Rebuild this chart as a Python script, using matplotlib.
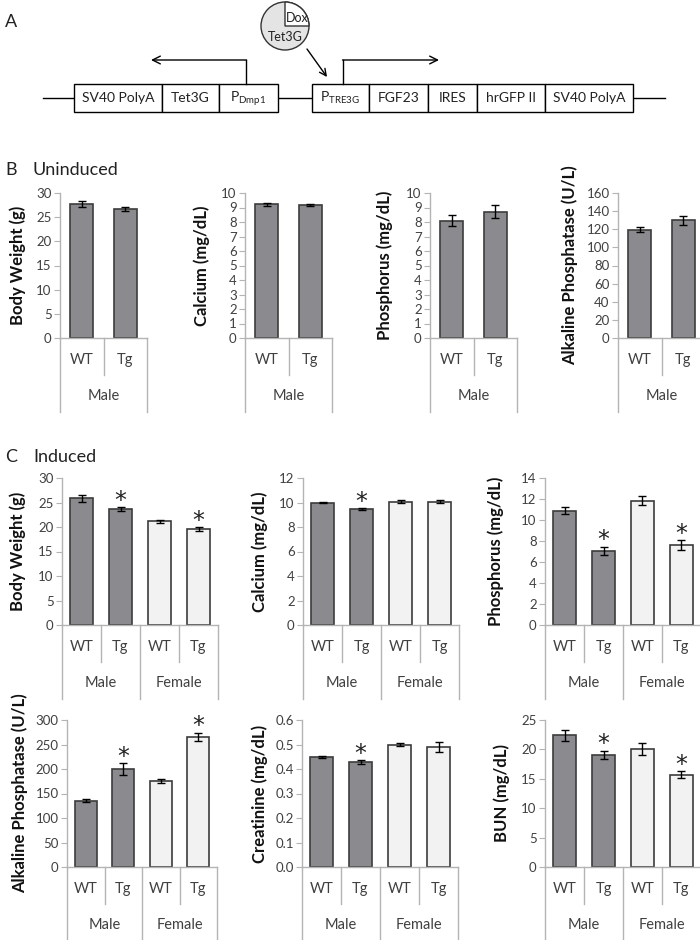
import numpy as np
import matplotlib.pyplot as plt
from matplotlib.patches import Rectangle, Circle, Wedge
from matplotlib.ticker import FormatStrFormatter
from matplotlib.transforms import blended_transform_factory

plt.rcParams['font.family'] = ['Lato', 'DejaVu Sans']

W, H = 700, 940

# categories
genotypes = ["WT", "Tg"]
sexes_b = ["Male"]
sexes_c = ["Male", "Female"]

# panel B - uninduced, male WT / Tg
b_weight = [27.8, 26.7]
b_weight_err = [0.6, 0.45]
b_calcium = [9.22, 9.17]
b_calcium_err = [0.1, 0.05]
b_phos = [8.1, 8.7]
b_phos_err = [0.4, 0.45]
b_alp = [119.5, 130.0]
b_alp_err = [2.5, 5.0]

# panel C - induced, Male WT, Male Tg, Female WT, Female Tg
c_weight = [25.9, 23.7, 21.2, 19.5]
c_weight_err = [0.7, 0.35, 0.3, 0.4]
c_calcium = [10.0, 9.45, 10.08, 10.08]
c_calcium_err = [0.05, 0.08, 0.15, 0.1]
c_phos = [10.9, 7.05, 11.85, 7.6]
c_phos_err = [0.3, 0.4, 0.4, 0.5]
c_alp = [135, 200, 176, 266]
c_alp_err = [3, 12, 4, 8]
c_creat = [0.45, 0.428, 0.50, 0.49]
c_creat_err = [0.005, 0.007, 0.006, 0.02]
c_bun = [22.4, 19.1, 20.1, 15.7]
c_bun_err = [0.9, 0.7, 1.0, 0.6]

# significance marks
c_weight_sig = [False, True, False, True]
c_calcium_sig = [False, True, False, False]
c_phos_sig = [False, True, False, True]
c_alp_sig = [False, True, False, True]
c_creat_sig = [False, True, False, False]
c_bun_sig = [False, True, False, True]

# construct (panel A)
left_parts = ["SV40 PolyA", "Tet3G", r"P$_{\mathregular{Dmp1}}$"]
right_parts = [r"P$_{\mathregular{TRE3G}}$", "FGF23", "IRES", "hrGFP II", "SV40 PolyA"]
left_edges = [74, 162, 219, 278]
right_edges = [312, 369, 428, 477, 545, 633]

dark = '#8b8b8f'
light = '#f2f2f2'
edge = '#3c3c3c'
gray = '#b4b4b4'
txt = '#404040'

fig = plt.figure(figsize=(7, 9.4), dpi=100)


def fy(px):
    return 1 - px / H


# ---------- panel A ----------
a = fig.add_axes([0, fy(140), 1, 140 / H])
a.set_xlim(0, W)
a.set_ylim(140, 0)
a.axis('off')

a.plot([43, 665], [98, 98], color='black', lw=1, zorder=1)
for parts, edges in [(left_parts, left_edges), (right_parts, right_edges)]:
    for name, x0, x1 in zip(parts, edges[:-1], edges[1:]):
        a.add_patch(Rectangle((x0, 84), x1 - x0, 28, fc='white', ec='black', lw=1, zorder=2))
        a.text((x0 + x1) / 2, 98, name, ha='center', va='center', fontsize=10, color='#222222', zorder=3)

# promoters
a.plot([246, 246], [84, 60], color='black', lw=1)
a.annotate('', xy=(151, 60), xytext=(246.5, 60),
           arrowprops=dict(arrowstyle='->', lw=1, color='black', mutation_scale=14, shrinkA=0, shrinkB=0))
a.plot([343, 343], [84, 60], color='black', lw=1)
a.annotate('', xy=(439, 60), xytext=(342.5, 60),
           arrowprops=dict(arrowstyle='->', lw=1, color='black', mutation_scale=14, shrinkA=0, shrinkB=0))

# Tet3G / Dox
a.add_patch(Circle((285, 26), 24, fc='#e4e4e4', ec='#333333', lw=1))
a.add_patch(Wedge((285, 26), 24, 270, 360, fc='white', ec='#333333', lw=1))
a.text(297, 18, 'Dox', ha='center', va='center', fontsize=9, color='#222222')
a.text(285, 37, 'Tet3G', ha='center', va='center', fontsize=9, color='#222222')
a.annotate('', xy=(327, 77), xytext=(307, 49),
           arrowprops=dict(arrowstyle='->', lw=1, color='black', mutation_scale=12, shrinkA=0, shrinkB=0))

fig.text(5 / W, fy(22), 'A', fontsize=13, va='center', color='#222222')
fig.text(5 / W, fy(170), 'B', fontsize=13, va='center', color='#222222')
fig.text(33 / W, fy(170), 'Uninduced', fontsize=13, va='center', color='#222222')
fig.text(5 / W, fy(457), 'C', fontsize=13, va='center', color='#222222')
fig.text(33 / W, fy(457), 'Induced', fontsize=13, va='center', color='#222222')


def bar_chart(L, R, T, B, vals, errs, ymax, step, ylabel, label_x, groups,
              colors, sig=None, fmt=None, width=0.55):
    ax = fig.add_axes([L / W, fy(B), (R - L) / W, (B - T) / H])
    n = len(vals)
    x = np.arange(n) + 0.5
    ax.bar(x, vals, width, color=colors, edgecolor=edge, linewidth=1.2, zorder=2)
    ax.errorbar(x, vals, yerr=errs, fmt='none', ecolor='black', elinewidth=1,
                capsize=3, capthick=1, zorder=3)
    if sig is not None:
        for xi, v, e, s in zip(x, vals, errs, sig):
            if s:
                ax.annotate('*', (xi, v + e), xytext=(0, -4), textcoords='offset points',
                            ha='center', va='bottom', fontsize=17, color='#222222',
                            family='DejaVu Sans')
    ax.set_xlim(0, n)
    ax.set_ylim(0, ymax)
    ax.set_yticks(np.arange(0, ymax + step / 2, step))
    if fmt:
        ax.yaxis.set_major_formatter(FormatStrFormatter(fmt))
    ax.set_xticks([])
    for s in ['top', 'right']:
        ax.spines[s].set_visible(False)
    for s in ['left', 'bottom']:
        ax.spines[s].set_color(gray)
        ax.spines[s].set_linewidth(1)
    ax.tick_params(axis='y', length=4, color=gray, labelsize=9.5, labelcolor=txt, pad=2)
    ax.set_ylabel(ylabel, fontsize=12, fontweight='bold', va='center', color='#111111')
    ax.yaxis.set_label_coords((label_x - L) / (R - L), 0.5)

    # two-level category axis
    tr = blended_transform_factory(ax.transData, fig.transFigure)
    k = len(genotypes)
    for i in range(n + 1):
        depth = 74 if i % k == 0 else 37
        ax.plot([i, i], [fy(B), fy(B + depth)], color=gray, lw=1, transform=tr, clip_on=False)
    for i in range(n):
        ax.text(i + 0.5, fy(B + 22), genotypes[i % k], ha='center', va='center',
                fontsize=10.5, color=txt, transform=tr)
    for g, name in enumerate(groups):
        ax.text(g * k + k / 2, fy(B + 58), name, ha='center', va='center',
                fontsize=10.5, color=txt, transform=tr)
    return ax


# ---------- panel B ----------
bc = [dark, dark]
bar_chart(60, 147, 193, 338, b_weight, b_weight_err, 30, 5, 'Body Weight (g)', 18, sexes_b, bc, width=0.52)
bar_chart(245, 332, 193, 338, b_calcium, b_calcium_err, 10, 1, 'Calcium (mg/dL)', 202, sexes_b, bc, width=0.52)
bar_chart(430, 517, 193, 338, b_phos, b_phos_err, 10, 1, 'Phosphorus (mg/dL)', 385, sexes_b, bc, width=0.52)
bar_chart(618, 705, 193, 338, b_alp, b_alp_err, 160, 20, 'Alkaline Phosphatase (U/L)', 570, sexes_b, bc, width=0.52)

# ---------- panel C ----------
cc = [dark, dark, light, light]
bar_chart(62, 218, 478, 625, c_weight, c_weight_err, 30, 5, 'Body Weight (g)', 18, sexes_c, cc, c_weight_sig, width=0.58)
bar_chart(303, 459, 478, 625, c_calcium, c_calcium_err, 12, 2, 'Calcium (mg/dL)', 260, sexes_c, cc, c_calcium_sig, width=0.58)
bar_chart(545, 701, 478, 625, c_phos, c_phos_err, 14, 2, 'Phosphorus (mg/dL)', 496, sexes_c, cc, c_phos_sig, width=0.58)
bar_chart(67, 217, 720, 867, c_alp, c_alp_err, 300, 50, 'Alkaline Phosphatase (U/L)', 20, sexes_c, cc, c_alp_sig, width=0.58)
bar_chart(302, 458, 720, 867, c_creat, c_creat_err, 0.6, 0.1, 'Creatinine (mg/dL)', 260, sexes_c, cc, c_creat_sig, fmt='%.1f', width=0.58)
bar_chart(545, 701, 720, 867, c_bun, c_bun_err, 25, 5, 'BUN (mg/dL)', 502, sexes_c, cc, c_bun_sig, width=0.58)

plt.savefig('out.png', dpi=100)
